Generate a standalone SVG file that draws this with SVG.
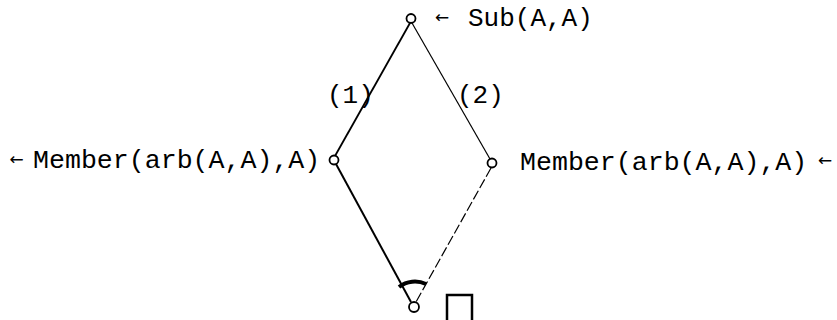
<svg xmlns="http://www.w3.org/2000/svg" width="837" height="320" viewBox="0 0 837 320">
<style>
.t{font-family:"Liberation Mono","Courier New",monospace;font-size:26px;fill:#000}
.m{font-size:26.6px}
.ar{font-family:"DejaVu Sans",sans-serif;font-size:17px;fill:#000;text-anchor:middle}
.n{fill:#fff;stroke:#000;stroke-width:1.8}
.e{stroke:#000;fill:none}
</style>
<rect width="837" height="320" fill="#fff"/>
<g id="connectors">
<line class="e" x1="410" y1="23" x2="335" y2="156" stroke-width="1.8"/>
<line class="e" x1="412" y1="23" x2="490" y2="159" stroke-width="1.2"/>
<line class="e" x1="336" y1="164" x2="411" y2="302" stroke-width="2"/>
<line class="e" x1="491" y1="168" x2="416" y2="302" stroke-width="1.2" stroke-dasharray="10 3"/>
<text class="t" x="327" y="103">(1)</text>
<text class="t" x="457" y="103">(2)</text>
</g>
<g id="top">
<circle class="n" cx="411" cy="18.5" r="4.5"/>
<text class="ar" x="442" y="23">←</text>
<text class="t" x="468" y="26">Sub(A,A)</text>
</g>
<g id="left">
<circle class="n" cx="334" cy="160" r="4.5"/>
<text class="ar" x="16.5" y="165">←</text>
<text class="t m" x="33" y="168">Member(arb(A,A),A)</text>
</g>
<g id="right">
<circle class="n" cx="492" cy="163" r="4.5"/>
<text class="t m" x="520" y="170">Member(arb(A,A),A)</text>
<text class="ar" x="825" y="166">←</text>
</g>
<g id="bottom">
<circle class="n" cx="414" cy="307" r="5"/>
<path class="e" d="M399,287 A26,26 0 0 1 426,284" stroke-width="4"/>
<path class="e" d="M447,320 V295 H472 V320" stroke-width="2.5"/>
</g>
</svg>
